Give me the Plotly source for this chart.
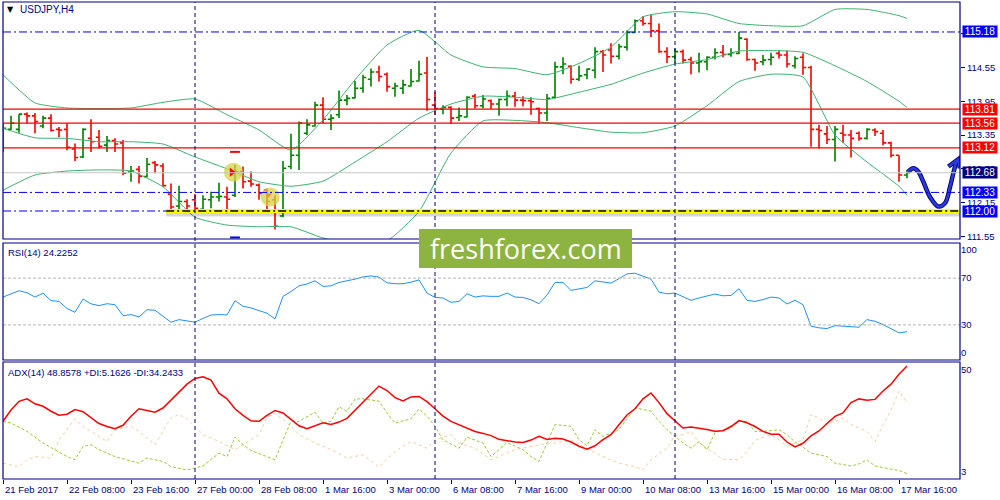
import plotly.graph_objects as go

# ---------------- data ----------------
bar_idx = list(range(114))
tick_bars = [0, 8, 16, 24, 32, 40, 48, 56, 64, 72, 80, 88, 96, 104, 112]
tick_labels = ["21 Feb 2017", "22 Feb 08:00", "23 Feb 16:00", "27 Feb 00:00", "28 Feb 08:00",
               "1 Mar 16:00", "3 Mar 00:00", "6 Mar 08:00", "7 Mar 16:00", "9 Mar 00:00",
               "10 Mar 08:00", "13 Mar 16:00", "15 Mar 00:00", "16 Mar 08:00", "17 Mar 16:00"]
week_separators = [24, 54, 84]

opens = [113.42, 113.45, 113.45, 113.72, 113.69, 113.51, 113.65, 113.45, 113.45, 113.10,
         112.96, 113.29, 113.31, 113.17, 113.25, 113.21, 112.69, 112.74, 112.61, 112.86,
         112.80, 112.30, 112.09, 112.17, 112.20, 112.03, 112.20, 112.25, 112.25, 112.28,
         112.70, 112.53, 112.46, 112.37, 112.20, 111.91, 112.79, 112.99, 113.38, 113.51,
         113.88, 113.63, 113.71, 113.97, 114.01, 114.18, 114.34, 114.47, 114.43, 114.18,
         114.18, 114.22, 114.31, 114.45, 113.88, 113.81, 113.84, 113.66, 113.67, 114.04,
         113.87, 113.96, 113.90, 113.98, 114.04, 113.97, 113.96, 113.82, 113.74, 114.02,
         114.56, 114.57, 114.34, 114.42, 114.50, 114.83, 114.86, 114.75, 114.91, 115.17,
         115.38, 115.33, 115.20, 114.83, 114.74, 114.83, 114.69, 114.63, 114.65, 114.73,
         114.82, 114.78, 114.80, 115.05, 114.69, 114.65, 114.69, 114.80, 114.77, 114.58,
         114.73, 114.55, 113.45, 113.37, 113.27, 113.38, 113.35, 113.38, 113.29, 113.44,
         113.38, 113.21, 112.99, 112.64]
highs = [113.55, 113.69, 113.72, 113.75, 113.74, 113.69, 113.72, 113.49, 113.56, 113.20,
         113.47, 113.63, 113.44, 113.33, 113.29, 113.26, 112.80, 112.80, 112.94, 112.89,
         112.85, 112.49, 112.45, 112.21, 112.30, 112.28, 112.34, 112.50, 112.43, 112.82,
         112.79, 112.70, 112.49, 112.40, 112.28, 112.89, 113.37, 113.59, 113.63, 113.94,
         114.02, 113.72, 114.14, 114.06, 114.31, 114.42, 114.53, 114.58, 114.46, 114.28,
         114.33, 114.52, 114.67, 114.74, 114.12, 113.88, 113.86, 113.84, 114.04, 114.08,
         114.06, 113.98, 114.00, 114.14, 114.12, 114.04, 114.02, 113.84, 114.08, 114.65,
         114.73, 114.59, 114.58, 114.53, 114.91, 114.86, 114.98, 114.97, 115.21, 115.40,
         115.46, 115.48, 115.33, 114.91, 114.89, 114.87, 114.74, 114.81, 114.75, 114.89,
         114.95, 114.89, 115.18, 115.07, 114.71, 114.77, 114.81, 114.85, 114.85, 114.75,
         114.80, 114.58, 113.53, 113.51, 113.51, 113.53, 113.44, 113.41, 113.47, 113.47,
         113.44, 113.23, 112.99, 112.73]
lows = [113.05, 113.44, 113.39, 113.56, 113.38, 113.47, 113.41, 113.31, 113.08, 112.89,
        112.94, 113.05, 113.11, 113.05, 113.05, 112.64, 112.52, 112.49, 112.60, 112.67,
        112.43, 112.03, 112.01, 111.99, 111.99, 112.02, 112.05, 112.17, 111.96, 112.25,
        112.40, 112.43, 112.20, 112.02, 111.67, 111.89, 112.74, 112.73, 113.35, 113.50,
        113.56, 113.44, 113.65, 113.88, 114.00, 114.10, 114.21, 114.30, 114.12, 114.03,
        114.08, 114.21, 114.30, 113.78, 113.71, 113.72, 113.55, 113.60, 113.66, 113.82,
        113.82, 113.81, 113.69, 113.86, 113.85, 113.86, 113.71, 113.56, 113.60, 114.00,
        114.43, 114.26, 114.31, 114.34, 114.36, 114.47, 114.62, 114.69, 114.85, 115.16,
        115.29, 115.09, 114.81, 114.63, 114.62, 114.62, 114.43, 114.46, 114.50, 114.69,
        114.73, 114.74, 114.79, 114.67, 114.49, 114.59, 114.59, 114.71, 114.55, 114.53,
        114.42, 113.14, 113.11, 113.19, 112.88, 113.21, 112.95, 113.25, 113.27, 113.33,
        113.17, 112.95, 112.52, 112.58]
closes = [113.47, 113.56, 113.72, 113.69, 113.59, 113.65, 113.43, 113.44, 113.13, 112.95,
          113.45, 113.23, 113.15, 113.25, 113.19, 112.67, 112.71, 112.62, 112.83, 112.82,
          112.45, 112.07, 112.17, 112.09, 112.05, 112.21, 112.25, 112.26, 112.21, 112.70,
          112.52, 112.48, 112.31, 112.17, 111.73, 112.76, 112.99, 113.56, 113.53, 113.88,
          113.63, 113.65, 113.97, 114.00, 114.18, 114.37, 114.47, 114.39, 114.21, 114.22,
          114.24, 114.30, 114.43, 113.98, 113.82, 113.84, 113.65, 113.69, 114.02, 113.87,
          113.99, 113.90, 113.98, 114.04, 113.97, 113.96, 113.94, 113.74, 114.00, 114.56,
          114.61, 114.34, 114.40, 114.52, 114.83, 114.77, 114.75, 114.92, 115.17, 115.38,
          115.33, 115.20, 114.83, 114.74, 114.83, 114.68, 114.63, 114.65, 114.73, 114.81,
          114.78, 114.81, 115.07, 114.69, 114.63, 114.68, 114.73, 114.77, 114.61, 114.71,
          114.55, 113.45, 113.43, 113.27, 113.45, 113.35, 113.29, 113.29, 113.45, 113.41,
          113.21, 112.99, 112.64, 112.68]

bb_bars = [0, 4, 8, 12, 16, 20, 24, 28, 32, 36, 40, 44, 48, 52, 56, 60, 64, 68, 72, 76,
           80, 84, 88, 92, 96, 100, 104, 108, 112, 113]
bb_upper = [114.42, 113.92, 113.83, 113.82, 113.83, 113.93, 113.99, 113.71, 113.44, 113.08,
            113.62, 114.33, 114.95, 115.21, 114.77, 114.56, 114.53, 114.42, 114.62, 114.91,
            115.45, 115.54, 115.50, 115.33, 115.29, 115.29, 115.58, 115.58, 115.47, 115.42]
bb_middle = [113.47, 113.30, 113.29, 113.23, 113.23, 113.19, 112.96, 112.75, 112.52, 112.44,
             112.53, 112.87, 113.23, 113.65, 113.90, 114.04, 114.02, 113.98, 114.11, 114.25,
             114.45, 114.61, 114.69, 114.84, 114.85, 114.82, 114.58, 114.30, 113.95, 113.84]
bb_lower = [112.37, 112.64, 112.71, 112.73, 112.71, 112.43, 111.89, 111.75, 111.72, 111.72,
            111.52, 111.41, 111.47, 111.99, 113.03, 113.60, 113.61, 113.57, 113.48, 113.40,
            113.39, 113.51, 113.87, 114.30, 114.43, 114.38, 113.35, 112.87, 112.44, 112.28]

rsi = [53.8, 56.5, 59.2, 57.5, 53.8, 57.2, 50.7, 50.1, 44.0, 40.8,
       52.1, 48.0, 46.5, 48.1, 47.3, 37.9, 38.8, 36.8, 43.0, 42.5,
       37.5, 32.3, 34.5, 33.7, 32.3, 35.5, 38.5, 38.8, 38.5, 50.7,
       45.9, 44.5, 42.5, 40.0, 35.1, 54.4, 58.5, 63.4, 65.0, 67.7,
       62.9, 63.4, 66.3, 67.5, 69.1, 71.0, 71.9, 70.8, 66.0, 65.2,
       65.2, 66.5, 68.5, 57.2, 53.5, 53.0, 49.3, 50.1, 56.6, 53.8,
       54.8, 54.4, 54.4, 57.2, 53.8, 53.5, 51.5, 48.1, 55.5, 66.3,
       66.3, 59.5, 60.5, 62.0, 67.7, 66.5, 65.7, 69.5, 73.6, 74.2,
       71.9, 69.1, 58.0, 56.6, 57.2, 53.8, 51.0, 53.0, 54.5, 56.4,
       54.9, 55.2, 60.9, 51.0, 50.1, 51.6, 53.8, 53.0, 47.9, 51.0,
       47.3, 28.9, 27.5, 26.9, 29.4, 28.9, 28.3, 28.0, 34.5, 33.1,
       30.3, 27.0, 23.2, 24.2252]
rsi_levels = [70, 30]
rsi_tick_vals = [94, 70, 30, 6]
rsi_tick_text = ["100", "70", "30", "0"]

adx = [26.4, 31.0, 34.5, 35.5, 33.5, 32.5, 30.5, 28.9, 29.3, 31.2,
       30.3, 27.8, 25.5, 24.3, 23.4, 24.8, 28.5, 31.5, 30.8, 30.1,
       31.8, 35.0, 38.0, 41.5, 43.8, 44.5, 43.1, 37.8, 35.5, 31.5,
       28.8, 26.6, 26.4, 28.8, 30.8, 29.8, 27.2, 24.6, 23.4, 24.6,
       25.8, 25.1, 26.1, 27.6, 30.8, 34.0, 37.5, 40.7, 38.9, 36.0,
       34.7, 36.3, 36.5, 34.4, 31.5, 28.5, 26.4, 25.1, 23.5, 22.3,
       21.5, 20.6, 19.1, 18.4, 18.0, 17.8, 18.8, 20.3, 19.0, 19.5,
       19.2, 18.0, 16.3, 15.1, 16.5, 19.0, 21.0, 25.0, 29.0, 31.5,
       35.5, 37.9, 34.0, 29.5, 26.5, 23.7, 24.1, 23.7, 23.1, 22.4,
       22.6, 24.3, 26.7, 25.8, 24.3, 22.3, 21.2, 21.2, 18.0, 16.0,
       17.5, 20.5, 22.5, 25.5, 28.4, 29.8, 34.0, 35.5, 35.0, 35.3,
       38.7, 41.5, 45.5, 48.8578]
pdi_bars = [0, 1, 3, 5, 8, 9, 10, 11, 12, 14, 17, 18, 20, 21, 23, 24, 25, 27, 28, 29,
            30, 31, 33, 34, 35, 36, 37, 39, 40, 41, 42, 43, 44, 45, 47, 48, 49, 51, 52, 53,
            54, 55, 57, 58, 60, 61, 62, 63, 65, 66, 67, 68, 69, 71, 72, 73, 74, 75, 77, 78,
            79, 81, 82, 83, 85, 86, 87, 88, 89, 91, 92, 93, 94, 95, 96, 97, 98, 99, 100, 101,
            103, 104, 106, 107, 108, 109, 111, 112, 113]
pdi_vals = [26.4, 25.7, 22.3, 17.6, 12.1, 10.8, 16.2, 16.9, 14.9, 12.1, 9.4, 11.5, 10.1, 8.0, 6.7, 7.4, 8.3, 13.5, 12.1, 20.0,
            16.9, 14.6, 12.1, 10.8, 18.9, 26.4, 26.4, 30.1, 25.7, 26.4, 32.3, 30.5, 35.5, 35.5, 34.6, 29.8, 25.7, 27.4, 31.4, 28.5,
            24.4, 18.9, 15.5, 20.0, 17.6, 12.1, 14.9, 17.8, 14.9, 12.1, 10.1, 17.6, 25.1, 24.4, 18.9, 16.5, 23.0, 20.3, 23.0, 27.4,
            31.9, 30.5, 26.4, 23.0, 17.6, 15.5, 18.2, 14.9, 21.9, 23.7, 26.4, 26.4, 22.3, 22.3, 22.7, 23.0, 21.0, 18.0, 15.9, 13.5,
            12.1, 9.4, 8.3, 9.1, 10.8, 8.3, 7.0, 6.5, 5.1626]
mdi_bars = [0, 2, 3, 4, 6, 7, 9, 10, 12, 13, 14, 16, 17, 19, 21, 22, 23, 25, 27, 29,
            30, 32, 33, 34, 36, 37, 39, 41, 43, 45, 47, 49, 51, 53, 54, 56, 57, 59, 61, 63,
            64, 66, 67, 69, 71, 72, 74, 75, 77, 79, 80, 81, 83, 84, 85, 86, 87, 89, 90, 92,
            93, 94, 96, 97, 98, 100, 101, 102, 103, 105, 106, 108, 109, 110, 111, 112, 113]
mdi_vals = [9.4, 8.0, 10.8, 12.1, 11.5, 18.9, 27.4, 24.4, 20.3, 18.2, 23.0, 24.4, 22.3, 16.9, 27.8, 29.1, 27.5, 21.0, 18.2, 14.9,
            16.9, 21.0, 28.2, 29.8, 24.4, 21.0, 17.6, 14.9, 11.5, 12.8, 7.8, 14.2, 18.2, 15.5, 18.9, 21.0, 17.6, 15.5, 10.8, 13.5,
            14.9, 16.2, 16.9, 17.6, 18.9, 16.9, 13.5, 12.1, 9.4, 8.0, 6.7, 10.8, 15.5, 20.6, 21.0, 22.3, 17.8, 13.5, 11.0, 10.8,
            14.2, 18.7, 21.0, 18.9, 16.2, 18.9, 29.1, 27.8, 25.1, 27.8, 25.1, 22.3, 18.2, 25.0, 31.0, 38.7, 34.2433]
adx_tick_vals = [47.5, 6.0]
adx_tick_text = ["50", "3"]

price_ticks = [111.55, 112.15, 112.75, 113.35, 113.95, 114.55, 115.15]
blue_levels = [115.18, 112.33, 112.00]
red_levels = [113.81, 113.56, 113.12]
bid_price = 112.68
support_price = 112.00
support_start_bar = 20.4

fractal_bar = [29]
fractal_high = [113.05]
fractal_low = [111.53]
circle_bars = [28.8, 33.4]
circle_prices = [112.69, 112.25]
arrow1_bar, arrow1_price = [28.6], [112.69]
arrow2_bar, arrow2_price = [33.2], [112.29]

curve_bars = [113.16, 113.79, 114.41, 115.04, 115.88, 116.91, 117.75, 118.38, 118.79, 119.13, 119.41]
curve_prices = [112.70, 112.76, 112.70, 112.52, 112.25, 112.08, 112.14, 112.43, 112.67, 112.85, 112.92]
head_bars = [118.17, 119.41, 119.60]
head_prices = [112.79, 112.92, 112.76]

# ---------------- geometry / style ----------------
NAVY = "#000080"
FONT = "Liberation Sans, Arial, sans-serif"
W, H = 1000, 500
ML, MR, MT, MB = 3, 40, 2, 21
PW, PH = W - ML - MR, H - MT - MB


def py(p):
    return (H - MB - p) / PH


def pxp(p):
    return (p - ML) / PW


main_dom = [py(239), 1.0]
rsi_dom = [py(360), py(243)]
adx_dom = [0.0, py(362)]
x_range = [0, PW / 8.0]
main_range = [112 + (211 - 239) / 56.3, 112 + (211 - 2) / 56.3]
adx_range = [3, 3 + 116.3 / 2.45]

fig = go.Figure()

for arr in (bb_upper, bb_middle, bb_lower):
    fig.add_trace(go.Scatter(x=bb_bars, y=arr, mode="lines", yaxis="y",
                             line=dict(color="#3cb371", width=1, shape="spline", smoothing=0.5),
                             hoverinfo="skip"))

fig.add_trace(go.Ohlc(x=bar_idx, open=opens, high=highs, low=lows, close=closes, yaxis="y",
                      increasing=dict(line=dict(color="#008000", width=1.6)),
                      decreasing=dict(line=dict(color="#ff0000", width=1.6)),
                      tickwidth=0.4))

# markers
fig.add_trace(go.Scatter(x=circle_bars, y=circle_prices, mode="markers", yaxis="y",
                         marker=dict(size=19, color="rgba(212,212,70,0.75)", line=dict(width=0))))
fig.add_trace(go.Scatter(x=arrow1_bar, y=arrow1_price, mode="markers", yaxis="y",
                         marker=dict(size=8, symbol="triangle-right", color="#ff0000")))
fig.add_trace(go.Scatter(x=arrow2_bar, y=arrow2_price, mode="markers", yaxis="y",
                         marker=dict(size=6, symbol="triangle-down", color="#e0a040")))
fig.add_trace(go.Scatter(x=fractal_bar, y=fractal_high, mode="markers", yaxis="y",
                         marker=dict(size=7, symbol="line-ew", line=dict(color="#ff0000", width=2))))
fig.add_trace(go.Scatter(x=fractal_bar, y=fractal_low, mode="markers", yaxis="y",
                         marker=dict(size=7, symbol="line-ew", line=dict(color="#0000ff", width=2))))

# hand-drawn arrow
for col, wd in (("#0a0a70", 4.5), ("#2a3ae0", 2.5)):
    fig.add_trace(go.Scatter(x=curve_bars, y=curve_prices, mode="lines", yaxis="y",
                             line=dict(color=col, width=wd, shape="spline", smoothing=1.0)))
    fig.add_trace(go.Scatter(x=head_bars, y=head_prices, mode="lines", yaxis="y",
                             line=dict(color=col, width=wd)))

# RSI
fig.add_trace(go.Scatter(x=bar_idx, y=rsi, mode="lines", yaxis="y2",
                         line=dict(color="#1e90ff", width=1)))
# ADX
fig.add_trace(go.Scatter(x=mdi_bars, y=mdi_vals, mode="lines", yaxis="y3",
                         line=dict(color="#f5cfa0", width=1, dash="dot")))
fig.add_trace(go.Scatter(x=pdi_bars, y=pdi_vals, mode="lines", yaxis="y3",
                         line=dict(color="#9acd32", width=1, dash="3px,2px")))
fig.add_trace(go.Scatter(x=bar_idx, y=adx, mode="lines", yaxis="y3",
                         line=dict(color="#ff0000", width=1.5)))

shapes = []
DASHDOT = "8px,3px,2px,3px"
for lv in blue_levels:
    shapes.append(dict(type="line", xref="paper", x0=0, x1=1, yref="y", y0=lv, y1=lv,
                       line=dict(color="#0000ff", width=1, dash=DASHDOT)))
for lv in red_levels:
    shapes.append(dict(type="line", xref="paper", x0=0, x1=1, yref="y", y0=lv, y1=lv,
                       line=dict(color="#ff0000", width=1.2)))
shapes.append(dict(type="line", xref="paper", x0=0, x1=1, yref="y", y0=bid_price, y1=bid_price,
                   line=dict(color="#c8c8c8", width=1)))
# support zone
shapes.append(dict(type="line", xref="x", x0=support_start_bar, x1=x_range[1], yref="y",
                   y0=support_price - 0.055, y1=support_price - 0.055,
                   line=dict(color="rgba(0,0,0,0.16)", width=5)))
shapes.append(dict(type="line", xref="x", x0=support_start_bar, x1=x_range[1], yref="y",
                   y0=support_price, y1=support_price, line=dict(color="#ffff00", width=4)))
shapes.append(dict(type="line", xref="x", x0=support_start_bar, x1=x_range[1], yref="y",
                   y0=support_price, y1=support_price, line=dict(color="#000000", width=1.5, dash=DASHDOT)))
for lv in rsi_levels:
    shapes.append(dict(type="line", xref="paper", x0=0, x1=1, yref="y2", y0=lv, y1=lv,
                       line=dict(color="#b4b4b4", width=1, dash="3px,2px")))
for b in week_separators:
    shapes.append(dict(type="line", xref="x", x0=b, x1=b, yref="paper", y0=0, y1=1,
                       line=dict(color=NAVY, width=1, dash="4px,3px")))
for dom in (main_dom, rsi_dom, adx_dom):
    shapes.append(dict(type="rect", xref="paper", yref="paper", x0=0, x1=1, y0=dom[0], y1=dom[1],
                       line=dict(color=NAVY, width=1.2), fillcolor="rgba(0,0,0,0)"))
# watermark box
shapes.append(dict(type="rect", xref="paper", yref="paper", x0=pxp(419), x1=pxp(632),
                   y0=py(268), y1=py(229), line=dict(width=0), fillcolor="#8db440"))

ann = []
box_specs = [(115.18, "#0000ff"), (113.81, "#ff0000"), (113.56, "#ff0000"), (113.12, "#ff0000"),
             (112.68, "#000080"), (112.33, "#0000ff"), (112.00, "#0000ff")]
for val, col in box_specs:
    ann.append(dict(x=1, xref="paper", y=val, yref="y", xanchor="left", yanchor="middle", xshift=2,
                    text=f"{val:.2f}", showarrow=False, bgcolor=col, width=34, height=11, borderpad=0,
                    font=dict(family=FONT, size=10, color="white")))
for b, lab in zip(tick_bars, tick_labels):
    ann.append(dict(x=b, xref="x", y=0, yref="paper", xanchor="left", yanchor="top", yshift=-3,
                    text=lab, showarrow=False, font=dict(family=FONT, size=9.5, color=NAVY)))
ann.append(dict(x=pxp(10), xref="paper", y=py(10), yref="paper", xanchor="center", yanchor="middle",
                text="▼", showarrow=False, font=dict(family="DejaVu Sans", size=8, color="black")))
ann.append(dict(x=pxp(18), xref="paper", y=py(10), yref="paper", xanchor="left", yanchor="middle",
                text="USDJPY,H4", showarrow=False, font=dict(family=FONT, size=10, color=NAVY)))
ann.append(dict(x=pxp(6), xref="paper", y=py(252), yref="paper", xanchor="left", yanchor="middle",
                text="RSI(14) 24.2252", showarrow=False, font=dict(family=FONT, size=9.5, color=NAVY)))
ann.append(dict(x=pxp(6), xref="paper", y=py(372), yref="paper", xanchor="left", yanchor="middle",
                text="ADX(14) 48.8578 +DI:5.1626 -DI:34.2433", showarrow=False,
                font=dict(family=FONT, size=9.5, color=NAVY)))
ann.append(dict(x=pxp(525.5), xref="paper", y=py(248), yref="paper", xanchor="center", yanchor="middle",
                text="freshforex.com", showarrow=False,
                font=dict(family="Open Sans", size=27, color="white")))

axfont = dict(family=FONT, size=9.5, color=NAVY)
fig.update_layout(
    width=W, height=H, margin=dict(l=ML, r=MR, t=MT, b=MB, autoexpand=False),
    paper_bgcolor="white", plot_bgcolor="white", showlegend=False,
    xaxis=dict(domain=[0, 1], range=x_range, anchor="y3", tickmode="array", tickvals=tick_bars,
               ticks="outside", ticklen=4, tickcolor=NAVY, showticklabels=False, showgrid=False,
               zeroline=False, showline=False, rangeslider=dict(visible=False)),
    yaxis=dict(domain=main_dom, anchor="x", side="right", range=main_range, tickmode="array",
               tickvals=price_ticks, ticktext=[f"{v:.2f}" for v in price_ticks], ticks="outside",
               ticklen=4, tickcolor=NAVY, tickfont=axfont, showgrid=False, zeroline=False),
    yaxis2=dict(domain=rsi_dom, anchor="x", side="right", range=[0, 100], tickmode="array",
                tickvals=rsi_tick_vals, ticktext=rsi_tick_text, ticks="", tickfont=axfont,
                showgrid=False, zeroline=False),
    yaxis3=dict(domain=adx_dom, anchor="x", side="right", range=adx_range, tickmode="array",
                tickvals=adx_tick_vals, ticktext=adx_tick_text, ticks="", tickfont=axfont,
                showgrid=False, zeroline=False),
    shapes=shapes, annotations=ann,
)
fig.update_traces(hoverinfo="skip")

fig.write_html("out.html", config={"displayModeBar": False},
               post_script="document.body.style.margin='0px';")
